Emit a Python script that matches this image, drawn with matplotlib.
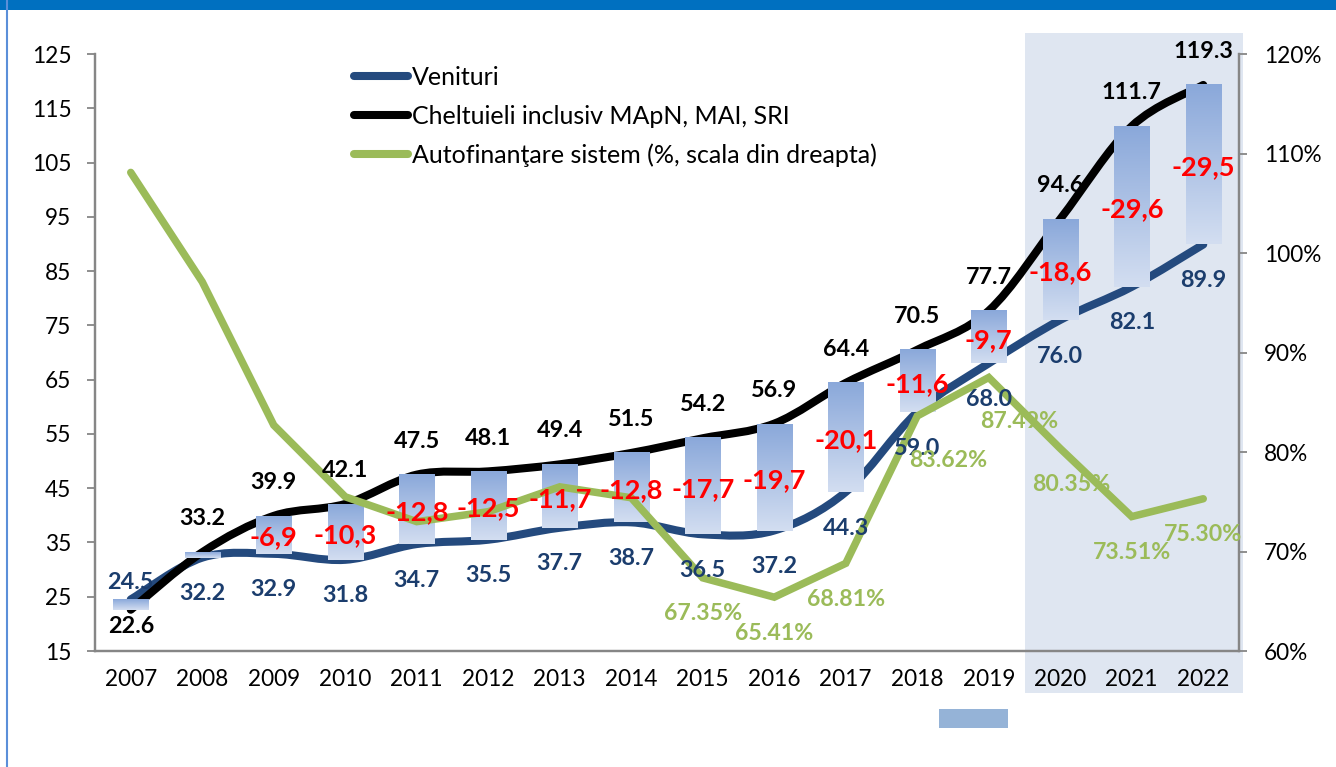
import matplotlib.pyplot as plt
import numpy as np
from matplotlib.path import Path
from matplotlib.patches import PathPatch, Rectangle
from matplotlib.colors import LinearSegmentedColormap
from matplotlib.lines import Line2D
import matplotlib.transforms as mtransforms

plt.rcParams['font.family'] = ['Lato', 'DejaVu Sans']

# Date (mld. lei)
ani = ['2007', '2008', '2009', '2010', '2011', '2012', '2013', '2014',
       '2015', '2016', '2017', '2018', '2019', '2020', '2021', '2022']
venituri = [24.5, 32.2, 32.9, 31.8, 34.7, 35.5, 37.7, 38.7,
            36.5, 37.2, 44.3, 59.0, 68.0, 76.0, 82.1, 89.9]
cheltuieli = [22.6, 33.2, 39.9, 42.1, 47.5, 48.1, 49.4, 51.5,
              54.2, 56.9, 64.4, 70.5, 77.7, 94.6, 111.7, 119.3]
deficit = [None, None, -6.9, -10.3, -12.8, -12.5, -11.7, -12.8,
           -17.7, -19.7, -20.1, -11.6, -9.7, -18.6, -29.6, -29.5]
autofinantare = [108.1, 97.1, 82.7, 75.5, 73.0, 74.0, 76.5, 75.4,
                 67.35, 65.41, 68.81, 83.62, 87.49, 80.35, 73.51, 75.30]
etichete_af_de_la = 2015  # etichete % doar de la 2015

C_VEN = '#244A7E'
C_VEN_TXT = '#1B3D6D'
C_CH = '#000000'
C_AF = '#9BBB59'
C_RED = '#FF0000'
GRI = '#868686'


def cale_neteda(xs, ys):
    # curba neteda tip Excel (Bezier cubic prin punctele seriei)
    n = len(xs)
    verts = [(xs[0], ys[0])]
    codes = [Path.MOVETO]
    for i in range(n - 1):
        a = i - 1 if i > 0 else i
        b = i + 2 if i + 2 < n else i + 1
        c1 = (xs[i] + (xs[i + 1] - xs[a]) / 6, ys[i] + (ys[i + 1] - ys[a]) / 6)
        c2 = (xs[i + 1] - (xs[b] - xs[i]) / 6, ys[i + 1] - (ys[b] - ys[i]) / 6)
        verts += [c1, c2, (xs[i + 1], ys[i + 1])]
        codes += [Path.CURVE4] * 3
    return Path(verts, codes)


fig = plt.figure(figsize=(13.36, 7.67), dpi=100)
ax = fig.add_axes([95 / 1336, 1 - 651 / 767, (1239 - 95) / 1336, (651 - 54) / 767])
ax.set_facecolor('none')
ax2 = ax.twinx()

x = np.arange(len(ani))

# zona umbrita 2020-2022
tr = mtransforms.blended_transform_factory(ax.transData, ax.transAxes)
ax.add_patch(Rectangle((12.5, -0.07), 3.056, 1.105, transform=tr, facecolor='#DFE6F1',
                       edgecolor='none', clip_on=False, zorder=0))

# linii netede
ax.add_patch(PathPatch(cale_neteda(x, venituri), facecolor='none', edgecolor=C_VEN,
                       lw=5.8, capstyle='round', joinstyle='round', zorder=2))
ax.add_patch(PathPatch(cale_neteda(x, cheltuieli), facecolor='none', edgecolor=C_CH,
                       lw=5.8, capstyle='round', joinstyle='round', zorder=2))

# bare plutitoare cu gradient
cmap = LinearSegmentedColormap.from_list('bara', ['#8AA8DA', '#D3DEF1'])
grad = np.linspace(0, 1, 256).reshape(-1, 1)
for i in x:
    lo, hi = min(venituri[i], cheltuieli[i]), max(venituri[i], cheltuieli[i])
    ax.imshow(grad, extent=(i - 0.245, i + 0.245, lo, hi), aspect='auto',
              cmap=cmap, zorder=3, interpolation='bilinear')
ax.set_xlim(-0.5, len(ani) - 0.5)
ax.set_ylim(15, 125)
ax2.set_ylim(60, 120)

# autofinantare (scala din dreapta)
ax2.plot(x, autofinantare, color=C_AF, lw=5.4, solid_capstyle='round',
         solid_joinstyle='miter', zorder=2)

# axe
ax.set_xticks(x)
ax.set_xticklabels(ani)
ax.set_yticks(np.arange(15, 126, 10))
ax2.set_yticks(np.arange(60, 121, 10))
ax2.set_yticklabels([f'{v}%' for v in range(60, 121, 10)])
for a in (ax, ax2):
    a.spines['top'].set_visible(False)
    for s in ('left', 'right', 'bottom'):
        a.spines[s].set_color(GRI)
        a.spines[s].set_linewidth(1.6)
ax.tick_params(axis='x', length=0, pad=13, labelsize=16.3)
ax.tick_params(axis='y', direction='out', length=6, width=1.3, color=GRI, pad=11, labelsize=16.3)
ax2.tick_params(axis='y', direction='out', length=6, width=1.3, color=GRI, pad=12, labelsize=16.3)

# etichete
for i in x:
    dy = -12 if i == 0 else 24
    ax2.annotate(f'{cheltuieli[i]:.1f}', xy=(i, cheltuieli[i]), xycoords=ax.transData,
                 xytext=(0, dy), textcoords='offset points', ha='center', va='center',
                 fontsize=16.8, fontweight='bold', color=C_CH, zorder=5)
    dy = 12 if i == 0 else -26
    ax2.annotate(f'{venituri[i]:.1f}', xy=(i, venituri[i]), xycoords=ax.transData,
                 xytext=(0, dy), textcoords='offset points', ha='center', va='center',
                 fontsize=16.8, fontweight='bold', color=C_VEN_TXT, zorder=5)
    if deficit[i] is not None:
        mid = (venituri[i] + cheltuieli[i]) / 2
        ax2.annotate(f'{deficit[i]:.1f}'.replace('.', ','), xy=(i, mid), xycoords=ax.transData,
                     xytext=(0, -2), textcoords='offset points', ha='center', va='center',
                     fontsize=19.5, fontweight='bold', color=C_RED, zorder=5)
    if int(ani[i]) >= etichete_af_de_la:
        dx, dy = 0, -26
        if ani[i] in ('2018', '2019'):
            dx, dy = 22, -32
        elif ani[i] == '2020':
            dx = 8
        ax2.annotate(f'{autofinantare[i]:.2f}%', xy=(i, autofinantare[i]),
                     xytext=(dx, dy), textcoords='offset points', ha='center', va='center',
                     fontsize=16.7, fontweight='bold', color=C_AF, zorder=5)

# legenda
handles = [Line2D([], [], color=C_VEN, lw=5.8, solid_capstyle='round'),
           Line2D([], [], color=C_CH, lw=5.8, solid_capstyle='round'),
           Line2D([], [], color=C_AF, lw=5.8, solid_capstyle='round')]
labels = ['Venituri', 'Cheltuieli inclusiv MApN, MAI, SRI',
          'Autofinanţare sistem (%, scala din dreapta)']
fig.legend(handles, labels, loc='upper left', bbox_to_anchor=(354 / 1336, 1 - 66 / 767),
           frameon=False, fontsize=18, handlelength=2.15, handletextpad=0.15,
           labelspacing=0.62, borderaxespad=0, borderpad=0)

# cadru
fig.patches.append(Rectangle((0, 1 - 10 / 767), 1, 10 / 767, transform=fig.transFigure,
                             facecolor='#0070C0', edgecolor='none'))
fig.add_artist(Line2D([7 / 1336, 7 / 1336], [0, 1], transform=fig.transFigure,
                      color='#5B8FD9', lw=1.5))
fig.patches.append(Rectangle((939 / 1336, 1 - 728 / 767), 69 / 1336, 19 / 767,
                             transform=fig.transFigure, facecolor='#95B3D7', edgecolor='none'))

fig.savefig('out.png', dpi=100)
